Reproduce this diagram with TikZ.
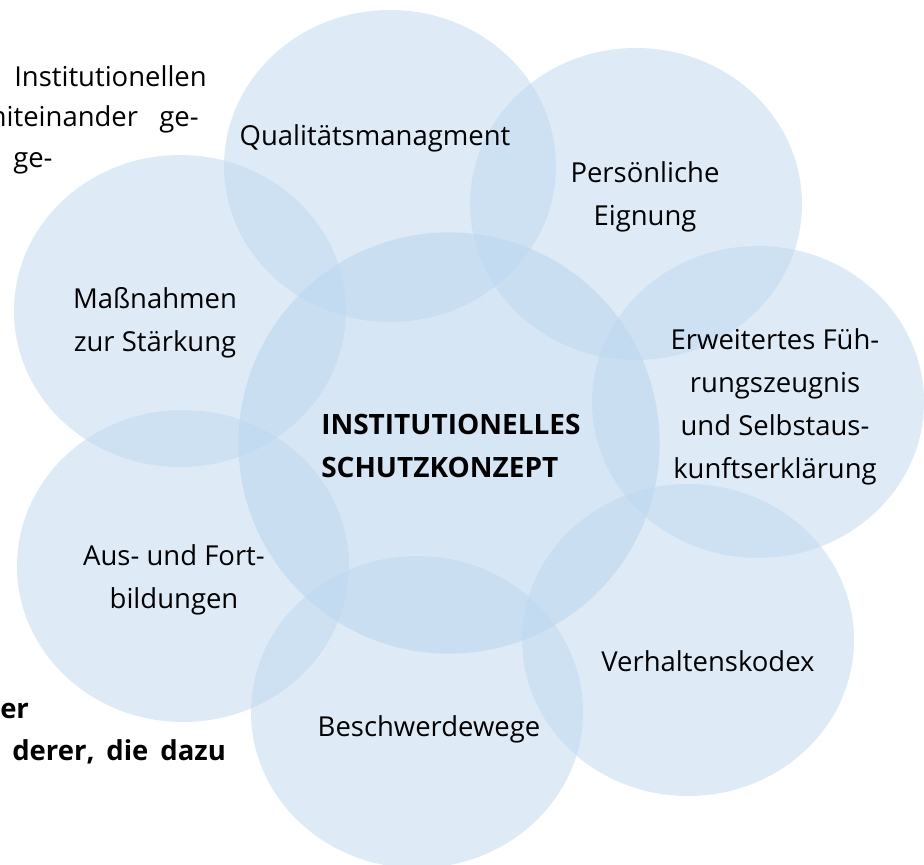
\documentclass[tikz,border=0pt]{standalone}
\usepackage{fontspec}
\setmainfont{Open Sans}
\usetikzlibrary{shapes.geometric}

\definecolor{blasenblau}{RGB}{189,215,238}

\tikzset{
  bubble/.style={ellipse, fill=blasenblau, fill opacity=0.5, draw=none,
    minimum width=249pt, minimum height=234pt, inner sep=0pt},
  hub/.style={circle, fill=blasenblau, fill opacity=0.62, draw=none,
    minimum size=316pt, inner sep=0pt},
  bubbletext/.style={align=center, inner sep=0pt,
    font=\fontsize{20.6pt}{32.3pt}\selectfont},
  bodytext/.style={inner sep=0pt, font=\fontsize{20.6pt}{32.3pt}\selectfont},
}

\begin{document}
\begin{tikzpicture}[x=0.75pt, y=-0.75pt]

\useasboundingbox (0,0) rectangle (924,864);
\clip (0,0) rectangle (924,864);

% Textreste des Fliesstexts hinter der Grafik
\node[bodytext, anchor=east] (txtA) at (207,76) {Institutionellen};
\node[bodytext, anchor=east] (txtB) at (199,119) {miteinander\hspace{16pt}ge-};
\node[bodytext, anchor=west] (txtC) at (13,163) {ge-};
\node[bodytext, anchor=west, font=\fontsize{20.6pt}{32.3pt}\selectfont\bfseries] (txtD) at (0,711) {er};
\node[bodytext, anchor=west, font=\fontsize{20.6pt}{32.3pt}\selectfont\bfseries] (txtE) at (12,752)
  {derer,\hspace{9pt}die\hspace{9pt}dazu};

% Mittelkreis
\node[hub] (kern) at (449,443) {};

% aeussere Blasen
\foreach \name/\x/\y in {quali/390/166, eignung/636/204, zeugnis/758/402,
    kodex/688/640, wege/417/712, bildung/183/566, staerkung/180/311}
  \node[bubble] (\name) at (\x,\y) {};

% Beschriftungen
\node[bubbletext, align=left, anchor=west, font=\fontsize{21pt}{32.3pt}\selectfont\bfseries]
  (kernlabel) at (321,446) {INSTITUTIONELLES\\SCHUTZKONZEPT};
\node[bubbletext] (qualilabel) at (375,138) {Qualitätsmanagment};
\node[bubbletext] (eignunglabel) at (645,197) {Persönliche\\Eignung};
\node[bubbletext] (zeugnislabel) at (775,407)
  {Erweitertes Füh-\\rungszeugnis\\und Selbstaus-\\kunftserklärung};
\node[bubbletext] (kodexlabel) at (708,661) {Verhaltenskodex};
\node[bubbletext] (wegelabel) at (429,729) {Beschwerdewege};
\node[bubbletext] (bildunglabel) at (174,580) {Aus- und Fort-\\bildungen};
\node[bubbletext] (staerkunglabel) at (155,323) {Maßnahmen\\zur Stärkung};

\end{tikzpicture}
\end{document}
